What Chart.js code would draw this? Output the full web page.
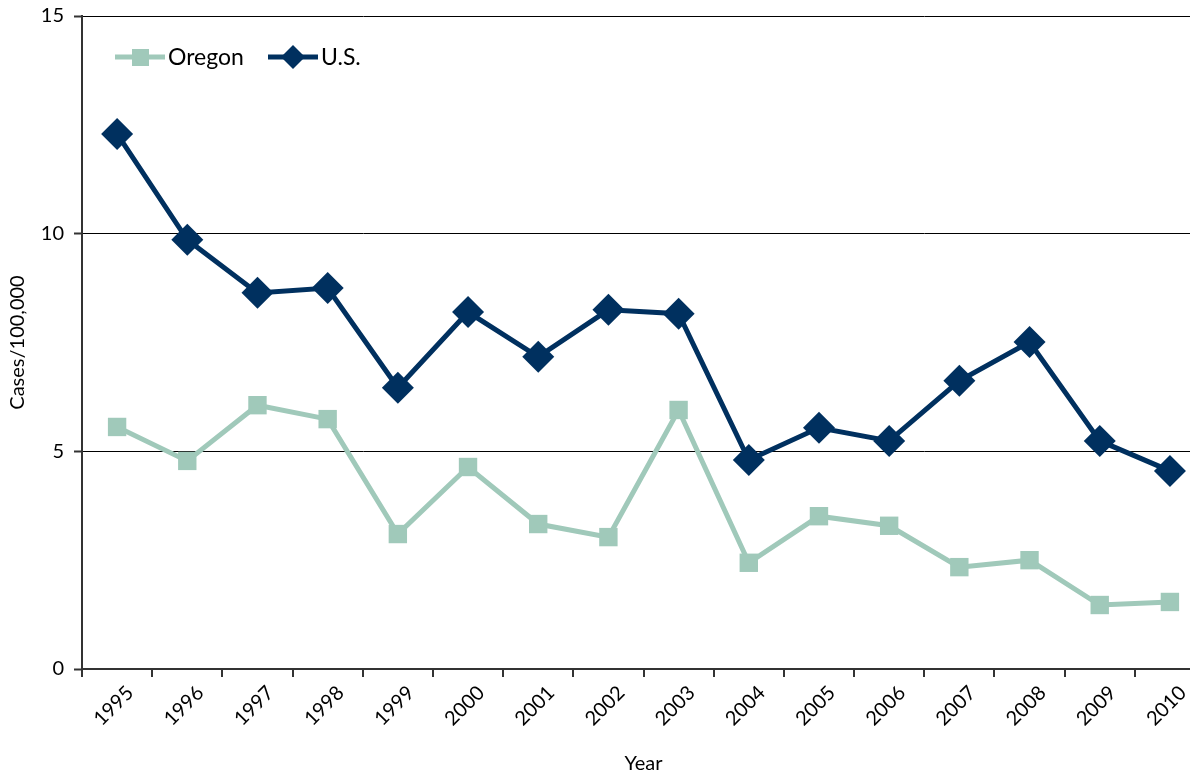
<!DOCTYPE html>
<html>
<head>
<meta charset="utf-8">
<script src="https://cdn.jsdelivr.net/npm/chart.js@4"></script>
<style>
  html, body { margin: 0; padding: 0; background: #fff; overflow: hidden; }
  canvas { display: block; }
</style>
</head>
<body>
<!-- wider than the window: the last category runs off the right edge like the original -->
<canvas id="chart" width="1221" height="778"></canvas>
<script>
// years on the x axis
var years = ["1995", "1996", "1997", "1998", "1999", "2000", "2001", "2002",
  "2003", "2004", "2005", "2006", "2007", "2008", "2009", "2010"];

// cases per 100,000
var oregon = [5.56, 4.78, 6.06, 5.74, 3.10, 4.64, 3.33, 3.03,
  5.95, 2.44, 3.51, 3.29, 2.34, 2.50, 1.47, 1.54];
var us = [12.29, 9.86, 8.64, 8.75, 6.46, 8.20, 7.17, 8.25,
  8.16, 4.80, 5.54, 5.24, 6.62, 7.51, 5.24, 4.55];

var yTicks = [0, 5, 10, 15];

var FONT = "Lato, 'Open Sans', sans-serif";
var OREGON_COLOR = "#a0c9ba";
var US_COLOR = "#00305f";

// legend drawn by hand: line with marker through it, then the name
var lineLegend = {
  id: "lineLegend",
  afterDraw: function (chart) {
    var ctx = chart.ctx;
    var items = [
      { text: "Oregon", color: OREGON_COLOR, style: "rect", x: 115 },
      { text: "U.S.", color: US_COLOR, style: "rectRot", x: 268 },
    ];
    var y = 57;
    ctx.save();
    items.forEach(function (it) {
      ctx.strokeStyle = it.color;
      ctx.lineWidth = 5;
      ctx.beginPath();
      ctx.moveTo(it.x, y);
      ctx.lineTo(it.x + 50, y);
      ctx.stroke();
      ctx.fillStyle = it.color;
      if (it.style === "rect") {
        ctx.fillRect(it.x + 17, y - 8, 17, 17);
      } else {
        ctx.beginPath();
        ctx.moveTo(it.x + 25, y - 12);
        ctx.lineTo(it.x + 37, y);
        ctx.lineTo(it.x + 25, y + 12);
        ctx.lineTo(it.x + 13, y);
        ctx.closePath();
        ctx.fill();
      }
      ctx.fillStyle = "#000";
      ctx.font = "23px " + FONT;
      ctx.textBaseline = "middle";
      ctx.fillText(it.text, it.x + 53, y + 1);
    });
    ctx.restore();
  },
};

var ctx = document.getElementById("chart");
new Chart(ctx, {
  type: "line",
  data: {
    labels: years,
    datasets: [
      {
        label: "Oregon",
        data: oregon,
        borderColor: OREGON_COLOR,
        backgroundColor: OREGON_COLOR,
        borderWidth: 5,
        pointStyle: "rect",
        pointRadius: 13,
        pointBorderWidth: 0,
        tension: 0,
      },
      {
        label: "U.S.",
        data: us,
        borderColor: US_COLOR,
        backgroundColor: US_COLOR,
        borderWidth: 5,
        pointStyle: "rectRot",
        pointRadius: 16,
        pointBorderWidth: 0,
        tension: 0,
      },
    ],
  },
  options: {
    responsive: false,
    animation: false,
    layout: {
      padding: { top: 16, right: 3, left: 0, bottom: 0 },
    },
    plugins: {
      legend: { display: false },
      tooltip: { enabled: false },
    },
    scales: {
      x: {
        type: "category",
        offset: true,
        afterFit: function (scale) {
          scale.height = 109;
          scale.paddingLeft = 0;
          scale.paddingRight = 0;
        },
        border: { display: true, color: "#333", width: 2 },
        grid: {
          drawOnChartArea: false,
          drawTicks: true,
          tickLength: 8,
          color: "#333",
          lineWidth: 2,
          offset: true,
        },
        ticks: {
          color: "#000",
          font: { family: FONT, size: 20 },
          minRotation: 45,
          maxRotation: 45,
          padding: 4,
          labelOffset: 13,
        },
        title: {
          display: true,
          text: "Year",
          color: "#000",
          font: { family: FONT, size: 20 },
          padding: { top: 0, bottom: 2 },
        },
      },
      y: {
        min: 0,
        max: 15,
        afterFit: function (scale) {
          scale.width = 82;
          scale.paddingTop = 0;
          scale.paddingBottom = 0;
        },
        afterBuildTicks: function (scale) {
          scale.ticks = yTicks.map(function (v) {
            return { value: v };
          });
        },
        border: { display: true, color: "#333", width: 2 },
        grid: {
          color: "#000",
          lineWidth: 1,
          drawTicks: true,
          tickLength: 8,
          tickColor: "#333",
          tickWidth: 2,
        },
        ticks: {
          color: "#000",
          font: { family: FONT, size: 20 },
          padding: 10,
        },
        title: {
          display: true,
          text: "Cases/100,000",
          color: "#000",
          font: { family: FONT, size: 20 },
          padding: { top: 6, bottom: 0 },
        },
      },
    },
  },
  plugins: [lineLegend],
});
</script>
</body>
</html>
